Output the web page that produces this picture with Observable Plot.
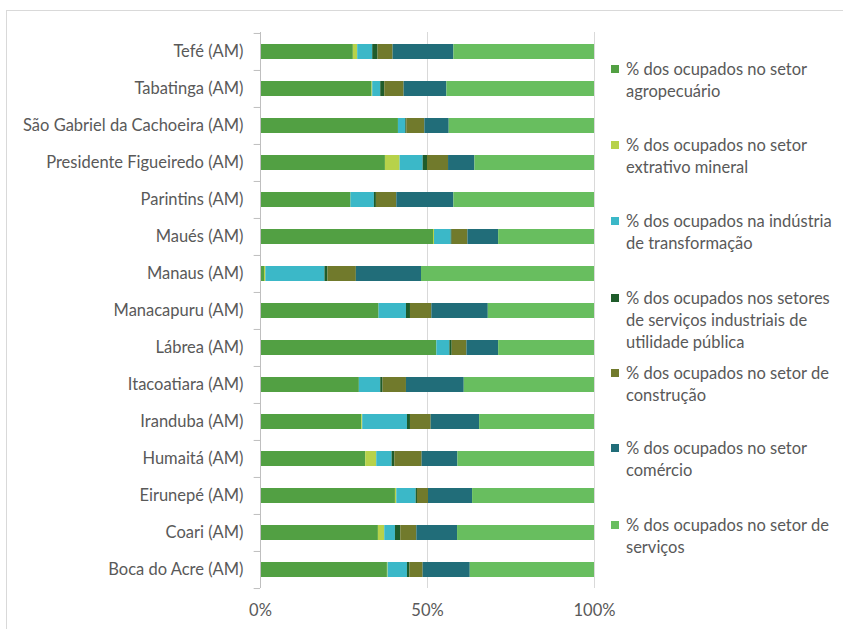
<!DOCTYPE html>
<html>
<head>
<meta charset="utf-8">
<script src="https://cdn.jsdelivr.net/npm/d3@7"></script>
<script src="https://cdn.jsdelivr.net/npm/@observablehq/plot@0.6"></script>
<style>
  html, body { margin: 0; padding: 0; background: #fff; }
  #wrap { position: relative; width: 843px; height: 629px; overflow: hidden; font-family: Lato, "Open Sans", sans-serif; }
  #border { position: absolute; left: 6px; top: 10px; width: 900px; height: 700px; border: 1px solid #d9d9d9; box-sizing: border-box; }
  #chart { position: absolute; left: 0; top: 0; }
  #legend { position: absolute; left: 0; top: 0; }
  .item { position: absolute; left: 611px; width: 232px; font-size: 16.5px; line-height: 22px; color: #595959; }
  .sw { position: absolute; left: 0; top: 7px; width: 8px; height: 8px; }
  .txt { position: absolute; left: 15px; top: 0; white-space: nowrap; }
</style>
</head>
<body>
<div id="wrap">
  <div id="border"></div>
  <div id="chart"></div>
  <div id="legend"></div>
</div>
<script>
const categorias = ["Tefé (AM)", "Tabatinga (AM)", "São Gabriel da Cachoeira (AM)", "Presidente Figueiredo (AM)", "Parintins (AM)", "Maués (AM)", "Manaus (AM)", "Manacapuru (AM)", "Lábrea (AM)", "Itacoatiara (AM)", "Iranduba (AM)", "Humaitá (AM)", "Eirunepé (AM)", "Coari (AM)", "Boca do Acre (AM)"];

const series = [
  "% dos ocupados no setor agropecuário",
  "% dos ocupados no setor extrativo mineral",
  "% dos ocupados na indústria de transformação",
  "% dos ocupados nos setores de serviços industriais de utilidade pública",
  "% dos ocupados no setor de construção",
  "% dos ocupados no setor comércio",
  "% dos ocupados no setor de serviços"
];
const legendLines = [
  ["% dos ocupados no setor", "agropecuário"],
  ["% dos ocupados no setor", "extrativo mineral"],
  ["% dos ocupados na indústria", "de transformação"],
  ["% dos ocupados nos setores", "de serviços industriais de", "utilidade pública"],
  ["% dos ocupados no setor de", "construção"],
  ["% dos ocupados no setor", "comércio"],
  ["% dos ocupados no setor de", "serviços"]
];
const cores = ["#52a043", "#b7d24a", "#3bb8c8", "#1f5c2b", "#717a2c", "#216d79", "#68be5f"];

const agropecuario = [27.8, 33.4, 41.3, 37.4, 27.1, 51.8, 1.2, 35.5, 52.8, 29.6, 30.3, 31.5, 40.4, 35.3, 38.0];
const extrativo    = [1.3, 0.2, 0.0, 4.4, 0.0, 0.3, 0.4, 0.0, 0.0, 0.0, 0.3, 3.3, 0.4, 1.9, 0.2];
const transformacao= [4.5, 2.4, 2.2, 6.9, 7.0, 5.0, 17.7, 8.2, 3.9, 6.4, 13.4, 4.6, 5.8, 3.2, 5.8];
const utilidade    = [1.6, 1.2, 0.3, 1.3, 0.6, 0.3, 0.9, 1.2, 0.7, 0.7, 0.9, 0.8, 0.4, 1.6, 0.7];
const construcao   = [4.5, 5.8, 5.4, 6.3, 6.1, 4.7, 8.5, 6.4, 4.4, 7.0, 6.2, 8.2, 3.3, 4.8, 4.0];
const comercio     = [18.2, 12.8, 7.3, 7.9, 17.1, 9.2, 19.5, 16.9, 9.5, 17.3, 14.5, 10.7, 13.2, 12.2, 14.1];
const servicos     = [42.1, 44.2, 43.5, 35.8, 42.1, 28.7, 51.8, 31.8, 28.7, 39.0, 34.4, 40.9, 36.5, 41.0, 37.2];

const xTicks = [0, 0.5, 1];

const valores = [agropecuario, extrativo, transformacao, utilidade, construcao, comercio, servicos];
const rows = [];
categorias.forEach((c, i) => {
  series.forEach((s, j) => rows.push({cat: c, serie: s, value: valores[j][i]}));
});

const W = 843, H = 629;
const mTop = 32, mBottom = 41, mLeft = 260, mRight = 249;
const step = (H - mTop - mBottom) / categorias.length;

const plot = Plot.plot({
  width: W,
  height: H,
  marginTop: mTop,
  marginBottom: mBottom,
  marginLeft: mLeft,
  marginRight: mRight,
  style: {fontFamily: "Lato, 'Open Sans', sans-serif", fontSize: "16.5px", color: "#595959", background: "transparent"},
  x: {domain: [0, 1], label: null},
  y: {domain: categorias, paddingInner: 0.6, paddingOuter: 0.3, label: null},
  color: {domain: series, range: cores},
  marks: [
    Plot.ruleX([0.5, 1], {stroke: "#d9d9d9", strokeWidth: 1}),
    Plot.barX(rows, Plot.stackX({x: "value", y: "cat", fill: "serie", order: series, offset: "normalize"})),
    Plot.ruleX([0], {stroke: "#bfbfbf", strokeWidth: 1}),
    Plot.ruleY(categorias, {y: d => d, x1: -0.019, x2: 0, dy: -step / 2, stroke: "#bfbfbf", clip: false}),
    Plot.ruleY(categorias.slice(-1), {y: d => d, x1: -0.019, x2: 0, dy: step / 2, stroke: "#bfbfbf", clip: false}),
    Plot.axisY({tickSize: 0, tickPadding: 17, fontSize: 16.5, fill: "#595959"}),
    Plot.axisX({ticks: xTicks, tickSize: 0, tickPadding: 16, tickFormat: d3.format(".0%"), fontSize: 16.5, fill: "#595959"})
  ]
});
document.getElementById("chart").appendChild(plot);

const leg = document.getElementById("legend");
const tops = [58, 134, 210, 287, 362, 437, 514];
legendLines.forEach((lines, i) => {
  const it = document.createElement("div");
  it.className = "item";
  it.style.top = tops[i] + "px";
  const sw = document.createElement("div");
  sw.className = "sw";
  sw.style.background = cores[i];
  it.appendChild(sw);
  const t = document.createElement("div");
  t.className = "txt";
  t.innerHTML = lines.join("<br>");
  it.appendChild(t);
  leg.appendChild(it);
});
</script>
</body>
</html>
